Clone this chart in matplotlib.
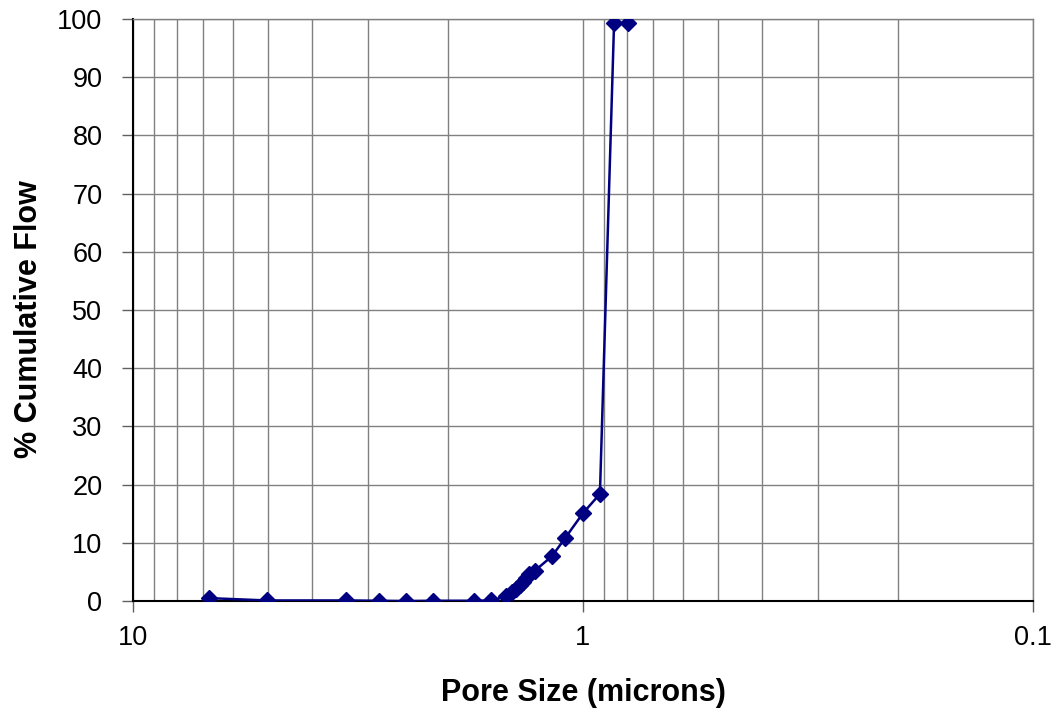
import matplotlib
matplotlib.use("Agg")
import matplotlib.pyplot as plt
from matplotlib.ticker import LogLocator, FixedLocator, NullFormatter

plt.rcParams['font.family'] = ['Liberation Sans', 'DejaVu Sans']

pore_size = [6.78, 5.04, 3.36, 2.84, 2.47, 2.15, 1.746, 1.60, 1.48,
             1.44, 1.41, 1.38, 1.36, 1.34, 1.32, 1.28,
             1.172, 1.096, 1.0, 0.917, 0.853, 0.795]
cum_flow = [0.5, 0.1, 0.1, 0.05, 0.0, 0.05, 0.05, 0.1, 0.8,
            1.5, 2.1, 2.7, 3.3, 4.0, 4.6, 5.2,
            7.7, 10.8, 15.1, 18.4, 99.3, 99.3]
x_ticks = [10, 1, 0.1]
x_tick_labels = ["10", "1", "0.1"]
y_ticks = list(range(0, 101, 10))

fig = plt.figure(figsize=(10.57, 7.15), dpi=100)
ax = fig.add_axes([0.1258, 0.1594, 0.9773 - 0.1258, 0.9734 - 0.1594])

ax.plot(pore_size, cum_flow, color='#000080', linewidth=1.8, marker='D',
        markersize=8, markerfacecolor='#000080', markeredgecolor='#000080', zorder=3)

ax.set_xscale('log')
ax.set_xlim(10, 0.1)
ax.set_ylim(0, 100)

ax.xaxis.set_major_locator(FixedLocator(x_ticks))
ax.set_xticklabels(x_tick_labels)
ax.xaxis.set_minor_locator(LogLocator(base=10, subs=range(2, 10)))
ax.xaxis.set_minor_formatter(NullFormatter())
ax.set_yticks(y_ticks)

ax.grid(True, which='both', axis='x', color='#808080', linewidth=1.0)
ax.grid(True, which='major', axis='y', color='#808080', linewidth=1.0)
ax.tick_params(axis='x', which='minor', length=0)
ax.tick_params(axis='both', which='major', labelsize=19.5, length=8, width=1,
               color='#606060', direction='out')
ax.tick_params(axis='y', which='major', pad=14)
ax.tick_params(axis='x', which='major', pad=9)

for s in ['top', 'right']:
    ax.spines[s].set_color('#808080')
    ax.spines[s].set_linewidth(1.0)
ax.spines['left'].set_color('black')
ax.spines['bottom'].set_color('black')
ax.spines['left'].set_linewidth(1.5)
ax.spines['bottom'].set_linewidth(1.5)

ax.set_xlabel('Pore Size (microns)', fontsize=22, fontweight='bold')
ax.set_ylabel('% Cumulative Flow', fontsize=22, fontweight='bold')
ax.xaxis.set_label_coords(0.5, -0.133)
ax.yaxis.set_label_coords(-0.099, 0.485)

fig.savefig('out.png', dpi=100)
